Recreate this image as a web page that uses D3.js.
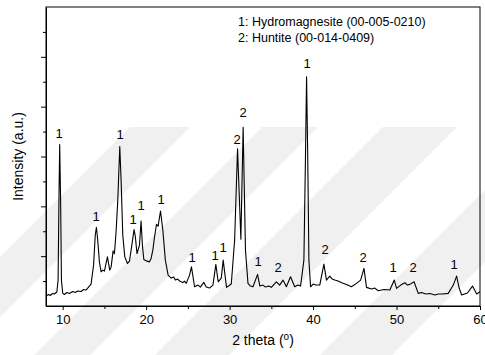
<!DOCTYPE html>
<html>
<head>
<meta charset="utf-8">
<script src="https://cdn.jsdelivr.net/npm/d3@7"></script>
<style>
  body { margin: 0; background: #fff; }
  svg { display: block; font-family: Arial, "Liberation Sans", sans-serif; }
  .labels { opacity: 0.99; }
</style>
</head>
<body>
<div id="chart"></div>
<script>
// XRD pattern: [2 theta, intensity]
var pattern = [
  [8.0, 200], [8.3, 230], [8.5, 210], [8.8, 250], [9.0, 240], [9.3, 280], [9.45, 520],
  [9.55, 2120], [9.64, 3240], [9.75, 2120], [9.85, 520], [10.0, 260], [10.2, 230],
  [10.5, 270], [10.8, 250], [11.2, 290], [11.5, 270], [11.8, 300], [12.2, 290],
  [12.5, 330], [12.8, 320], [13.1, 380], [13.4, 440], [13.7, 820], [13.9, 1420],
  [14.04, 1580], [14.2, 1320], [14.4, 880], [14.6, 686], [14.8, 720], [15.0, 700],
  [15.36, 986], [15.64, 720], [15.8, 780], [16.04, 1106], [16.2, 1050], [16.4, 1500],
  [16.6, 2120], [16.84, 3200], [17.0, 2520], [17.2, 1420], [17.44, 986], [17.76, 854],
  [18.0, 900], [18.2, 1120], [18.55, 1534], [18.7, 1400], [18.9, 1054], [19.2, 1220],
  [19.39, 1706], [19.55, 1220], [19.72, 934], [20.1, 900], [20.4, 886], [20.6, 960],
  [20.8, 1120], [21.0, 1380], [21.24, 1640], [21.43, 1600], [21.72, 1906], [22.0, 1520],
  [22.3, 920], [22.63, 620], [23.0, 560], [23.3, 580], [23.5, 520], [23.8, 540],
  [24.0, 500], [24.4, 470], [24.6, 500], [24.8, 454], [25.2, 620], [25.43, 786],
  [25.8, 386], [26.2, 420], [26.5, 380], [26.9, 474], [27.2, 380], [27.6, 360],
  [28.0, 420], [28.35, 834], [28.63, 486], [29.0, 560], [29.23, 920], [29.63, 374],
  [30.2, 440], [30.6, 1320], [30.95, 3154], [31.35, 1340], [31.62, 3586], [31.9, 1120],
  [32.2, 454], [32.5, 400], [32.8, 386], [33.35, 634], [33.62, 400], [34.0, 420],
  [34.3, 380], [34.7, 400], [35.0, 374], [35.6, 486], [36.0, 420], [36.4, 520],
  [36.8, 386], [37.3, 586], [37.8, 386], [38.2, 420], [38.5, 400], [38.9, 920],
  [39.1, 3120], [39.22, 4600], [39.35, 3120], [39.5, 920], [39.7, 386], [40.0, 440],
  [40.3, 420], [40.8, 420], [41.3, 840], [41.6, 520], [42.0, 600], [42.3, 540],
  [42.6, 520], [43.0, 500], [43.5, 460], [44.0, 430], [44.6, 386], [45.2, 454],
  [45.7, 520], [46.1, 754], [46.4, 374], [47.0, 340], [47.4, 360], [47.8, 306],
  [48.5, 330], [49.2, 320], [49.73, 520], [50.0, 354], [50.5, 420], [51.0, 466],
  [51.3, 420], [51.6, 434], [52.1, 486], [52.6, 254], [53.0, 270], [53.5, 240],
  [54.0, 250], [54.6, 220], [55.0, 240], [55.5, 240], [56.2, 254], [56.8, 420],
  [57.2, 600], [57.5, 360], [57.8, 220], [58.5, 260], [59.1, 400], [59.6, 240],
  [60.0, 286]
];

// peak labels: [2 theta, label baseline height, phase]
var peakLabels = [
  [9.6, 3380, '1'], [14.0, 1700, '1'], [16.84, 3360, '1'], [18.4, 1650, '1'],
  [19.4, 1920, '1'], [21.75, 2040, '1'], [25.45, 890, '1'], [28.3, 930, '1'],
  [29.2, 1080, '1'], [30.85, 3250, '2'], [31.62, 3790, '2'], [33.35, 800, '1'],
  [35.75, 680, '2'], [39.22, 4770, '1'], [41.4, 1050, '2'], [46.0, 890, '2'],
  [49.54, 680, '1'], [52.0, 680, '2'], [56.92, 750, '1']
];

var legendLines = ['1: Hydromagnesite (00-005-0210)', '2: Huntite (00-014-0409)'];
var xTicks = [10, 20, 30, 40, 50, 60];
var xMinorTicks = [15, 25, 35, 45, 55];
var yTicks = [1000, 2000, 3000, 4000, 5000];
var yMinorTicks = [500, 1500, 2500, 3500, 4500, 5500];

var width = 485, height = 355;
var margin = { top: 7, right: 5, bottom: 49, left: 46 };

var svg = d3.select('#chart').append('svg')
    .attr('width', width)
    .attr('height', height);

svg.append('rect').attr('width', width).attr('height', height).attr('fill', '#fff');

// faint diagonal watermark behind the plot
var stripes = [
  [[130, 127], [190, 127], [0, 317], [0, 257]],
  [[262, 127], [318, 127], [90, 355], [34, 355]],
  [[383, 127], [457, 127], [229, 355], [155, 355]],
  [[485, 190], [485, 262], [392, 355], [320, 355]]
];
svg.selectAll('.stripe')
    .data(stripes)
    .enter()
    .append('polygon')
    .attr('class', 'stripe')
    .attr('points', function(d) { return d.map(function(p) { return p.join(','); }).join(' '); })
    .attr('fill', '#f0f0f0');

var x = d3.scaleLinear()
    .domain([8, 60])
    .range([margin.left, width - margin.right]);

var y = d3.scaleLinear()
    .domain([0, 6000])
    .range([height - margin.bottom, margin.top]);

// box
svg.append('rect')
    .attr('x', x(8))
    .attr('y', y(6000))
    .attr('width', x(60) - x(8))
    .attr('height', y(0) - y(6000))
    .attr('fill', 'none')
    .attr('stroke', '#000')
    .attr('stroke-width', 1);

// x axis
var xAxis = svg.append('g')
    .attr('transform', 'translate(0,' + y(0) + ')')
    .call(d3.axisBottom(x).tickValues(xTicks).tickSize(4).tickSizeOuter(0).tickFormat(d3.format('d')));
xAxis.selectAll('text')
    .attr('font-size', 13)
    .attr('font-family', 'Arial, "Liberation Sans", sans-serif')
    .attr('fill', '#000')
    .attr('dy', '0.85em');

svg.append('g')
    .attr('transform', 'translate(0,' + y(0) + ')')
    .call(d3.axisBottom(x).tickValues(xMinorTicks).tickSize(3).tickSizeOuter(0).tickFormat(''))
    .select('.domain').remove();

// y axis, no labels
svg.append('g')
    .attr('transform', 'translate(' + x(8) + ',0)')
    .call(d3.axisLeft(y).tickValues(yTicks).tickSize(5).tickSizeOuter(0).tickFormat(''));

svg.append('g')
    .attr('transform', 'translate(' + x(8) + ',0)')
    .call(d3.axisLeft(y).tickValues(yMinorTicks).tickSize(3).tickSizeOuter(0).tickFormat(''))
    .select('.domain').remove();

// pattern
var line = d3.line()
    .x(function(d) { return x(d[0]); })
    .y(function(d) { return y(d[1]); });

svg.append('path')
    .datum(pattern)
    .attr('d', line)
    .attr('fill', 'none')
    .attr('stroke', '#000')
    .attr('stroke-width', 1.1)
    .attr('stroke-linejoin', 'round');

// peak labels
svg.append('g')
    .attr('class', 'labels')
    .selectAll('.peak-label')
    .data(peakLabels)
    .enter()
    .append('text')
    .attr('class', 'peak-label')
    .attr('x', function(d) { return Math.round(x(d[0])); })
    .attr('y', function(d) { return Math.round(y(d[1])); })
    .attr('text-anchor', 'middle')
    .attr('font-size', 13)
    .attr('fill', '#000')
    .text(function(d) { return d[2]; });

// legend
svg.selectAll('.legend')
    .data(legendLines)
    .enter()
    .append('text')
    .attr('class', 'legend')
    .attr('x', 238)
    .attr('y', function(d, i) { return 26 + i * 15.5; })
    .attr('font-size', 12.5)
    .attr('fill', '#000')
    .text(function(d) { return d; });

// axis titles
var xTitle = svg.append('text')
    .attr('x', (x(8) + x(60)) / 2)
    .attr('y', 345)
    .attr('text-anchor', 'middle')
    .attr('font-size', 14)
    .attr('fill', '#000')
    .text('2 theta (');
xTitle.append('tspan').attr('dy', -5).attr('font-size', 10).text('o');
xTitle.append('tspan').attr('dy', 5).text(')');

svg.append('text')
    .attr('transform', 'translate(23,' + ((y(0) + y(6000)) / 2) + ') rotate(-90)')
    .attr('text-anchor', 'middle')
    .attr('font-size', 14)
    .attr('fill', '#000')
    .text('Intensity (a.u.)');
</script>
</body>
</html>
